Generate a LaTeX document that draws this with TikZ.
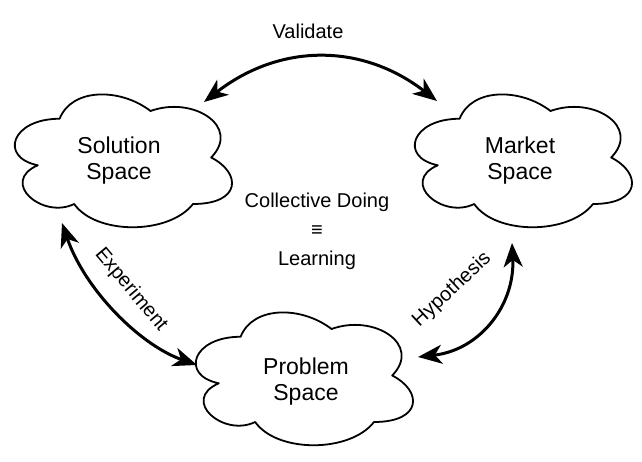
\documentclass[tikz,border=0pt]{standalone}
\usepackage{fontspec}
\setmainfont{Liberation Sans}
\usetikzlibrary{arrows.meta}
\tikzset{
  cloudline/.style={line width=1.8pt, line join=round},
  conn/.style={line width=3pt, {Stealth[length=24pt,width=19pt,inset=7pt]}-{Stealth[length=24pt,width=19pt,inset=7pt]}},
  cloudlabel/.style={align=center, font=\fontsize{23}{26}\selectfont},
  edgelabel/.style={font=\fontsize{20}{24}\selectfont},
}
\newcommand\drawcloud[2]{%
  \begin{scope}[shift={(#1,#2)}, x=242.5pt, y=-155pt]
    \draw[cloudline] (0.25,0.25) .. controls (0.05,0.25) and (0,0.5) .. (0.16,0.55)
      .. controls (0,0.66) and (0.18,0.9) .. (0.31,0.8)
      .. controls (0.4,1) and (0.7,1) .. (0.8,0.8)
      .. controls (1,0.8) and (1,0.6) .. (0.875,0.5)
      .. controls (1,0.3) and (0.8,0.1) .. (0.625,0.2)
      .. controls (0.5,0.05) and (0.3,0.05) .. (0.25,0.25) -- cycle;
  \end{scope}}
\begin{document}
\begin{tikzpicture}[x=1pt, y=-1pt]
  \useasboundingbox[fill=white] (0,0) rectangle (642,462);
  % clouds
  \drawcloud{-1}{80}
  \drawcloud{399}{80}
  \drawcloud{180}{298}
  \node[cloudlabel] (sol) at (119,161) {Solution\\Space};
  \node[cloudlabel] (mkt) at (520,161) {Market\\Space};
  \node[cloudlabel] (prb) at (306,381.5) {Problem\\Space};
  \node[align=center, font=\fontsize{20}{29}\selectfont] (mid) at (317,231.5) {Collective Doing\\≡\\Learning};
  % connector ends
  \coordinate (v1) at (204,102);
  \coordinate (v2) at (437,101);
  \coordinate (e1) at (62,223);
  \coordinate (e2) at (197,365);
  \coordinate (h1) at (418,357);
  \coordinate (h2) at (512,243);
  \draw[conn] (v1) .. controls (280,43) and (362,43) .. (v2);
  \draw[conn] (e1) .. controls (85,290) and (140,345) .. (e2);
  \draw[conn] (h1) .. controls (480,350) and (515,305) .. (h2);
  \node[edgelabel] (lv) at (308,31) {Validate};
  \node[edgelabel, rotate=-50] (le) at (131,290) {Experiment};
  \node[edgelabel, rotate=43] (lh) at (452,290) {Hypothesis};
\end{tikzpicture}
\end{document}
